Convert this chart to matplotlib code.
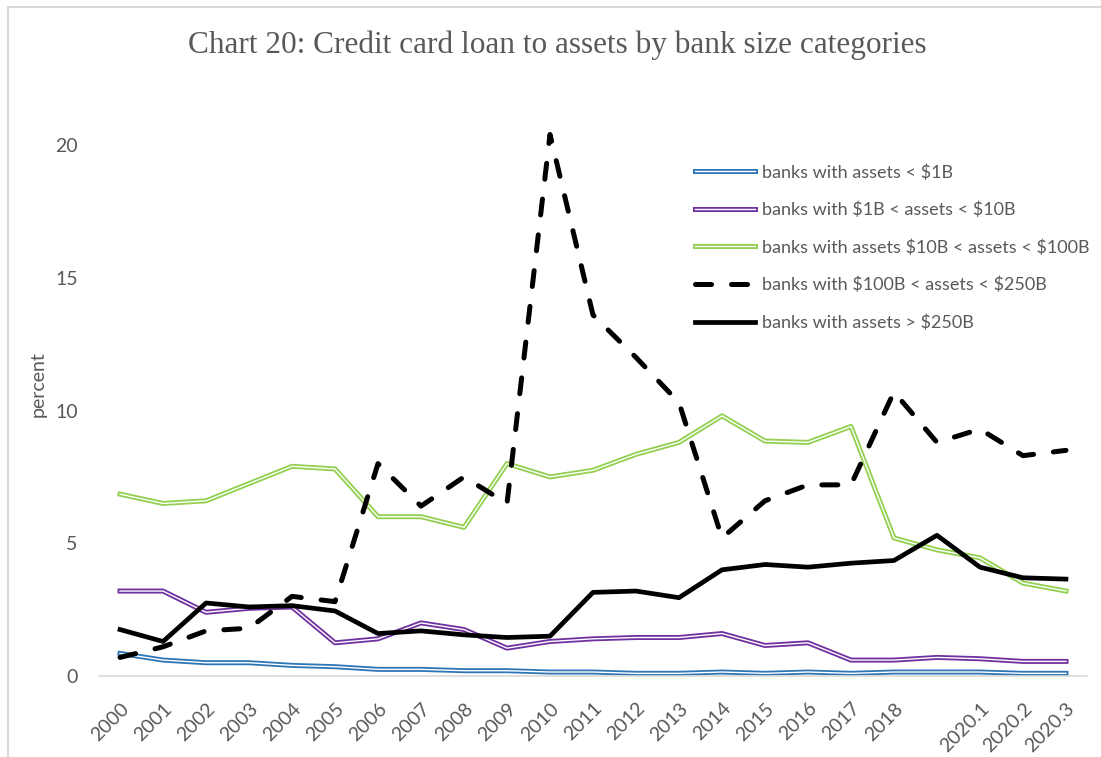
import numpy as np
import matplotlib
matplotlib.use("Agg")
import matplotlib.pyplot as plt
import matplotlib.patheffects as pe
from matplotlib.lines import Line2D

# categories (the 20th label is blank in the source chart)
periods = ["2000", "2001", "2002", "2003", "2004", "2005", "2006", "2007",
           "2008", "2009", "2010", "2011", "2012", "2013", "2014", "2015",
           "2016", "2017", "2018", "", "2020.1", "2020.2", "2020.3"]

under_1b = [0.85, 0.6, 0.5, 0.5, 0.4, 0.35, 0.25, 0.25, 0.2, 0.2, 0.15, 0.15,
            0.1, 0.1, 0.15, 0.1, 0.15, 0.1, 0.15, 0.15, 0.15, 0.1, 0.1]
b1_10 = [3.2, 3.2, 2.4, 2.55, 2.6, 1.25, 1.4, 2.0, 1.75, 1.05, 1.3, 1.4,
         1.45, 1.45, 1.6, 1.15, 1.25, 0.6, 0.6, 0.7, 0.65, 0.55, 0.55]
b10_100 = [6.85, 6.5, 6.6, 7.25, 7.9, 7.8, 6.0, 6.0, 5.6, 8.0, 7.5, 7.75,
           8.35, 8.8, 9.8, 8.85, 8.8, 9.4, 5.2, 4.75, 4.45, 3.5, 3.2]
b100_250 = [0.7, 1.1, 1.7, 1.8, 3.0, 2.8, 8.0, 6.4, 7.5, 6.5, 20.4, 13.6,
            12.0, 10.3, 5.2, 6.6, 7.2, 7.2, 10.7, 8.8, 9.3, 8.3, 8.5]
over_250b = [1.75, 1.3, 2.75, 2.6, 2.65, 2.45, 1.6, 1.7, 1.55, 1.45, 1.5, 3.15,
             3.2, 2.95, 4.0, 4.2, 4.1, 4.25, 4.35, 5.3, 4.1, 3.7, 3.65]

labels = [r"banks with assets < \$1B",
          r"banks with \$1B < assets < \$10B",
          r"banks with assets \$10B < assets < \$100B",
          r"banks with \$100B < assets < \$250B",
          r"banks with assets > \$250B"]

grey = "#595959"

fig = plt.figure(figsize=(11.01, 7.57), dpi=100)
ax = fig.add_axes([0.0895, 0.107, 0.8982, 0.7715])
x = np.arange(len(periods))

def double_line(y, color, label):
    ax.plot(x, y, color="white", lw=1.0, label=label, solid_joinstyle="round",
            path_effects=[pe.Stroke(linewidth=3.6, foreground=color), pe.Normal()])

double_line(under_1b, "#2E75B6", labels[0])
double_line(b1_10, "#7030A0", labels[1])
double_line(b10_100, "#92D050", labels[2])
ax.plot(x, b100_250, color="black", lw=3.6, dashes=(3.2, 4.0),
        dash_capstyle="round", label=labels[3])
ax.plot(x, over_250b, color="black", lw=3.4, solid_joinstyle="round",
        label=labels[4])

ax.set_xlim(-0.5, len(periods) - 0.5)
ax.set_ylim(0, 22)
ax.set_yticks([0, 5, 10, 15, 20])
ax.set_xticks(x)
ax.set_xticklabels(periods, rotation=45, ha="right", rotation_mode="anchor",
                   family="Lato", fontsize=14, color=grey)
for t in ax.get_yticklabels():
    t.set_family("Lato")
ax.tick_params(axis="y", length=0, pad=15, labelsize=14, labelcolor=grey)
ax.tick_params(axis="x", length=0, pad=17)
for s in ["top", "right", "left"]:
    ax.spines[s].set_visible(False)
ax.spines["bottom"].set_color("#D9D9D9")
ax.spines["bottom"].set_linewidth(1.2)
ax.set_ylabel("percent", family="Lato", fontsize=14, color=grey)
ax.yaxis.set_label_coords(-0.052, 0.5)

fig.text(0.506, 0.94, "Chart 20: Credit card loan to assets by bank size categories",
         ha="center", va="center", family="Liberation Serif", fontsize=22.5, color=grey)

leg = ax.legend(loc="upper left", bbox_to_anchor=(686 / 1101, 1 - 155 / 757),
                bbox_transform=fig.transFigure, frameon=False, borderpad=0,
                handlelength=3.3, handletextpad=0.4, labelspacing=1.17,
                prop={"family": "Lato", "size": 13})
for t in leg.get_texts():
    t.set_color(grey)

# chart border (left and top edges visible)
fig.add_artist(Line2D([8 / 1101, 8 / 1101], [0, 1 - 7 / 757], color="#D9D9D9", lw=1.5))
fig.add_artist(Line2D([8 / 1101, 1], [1 - 7 / 757, 1 - 7 / 757], color="#D9D9D9", lw=1.5))

fig.savefig("out.png", dpi=100)
